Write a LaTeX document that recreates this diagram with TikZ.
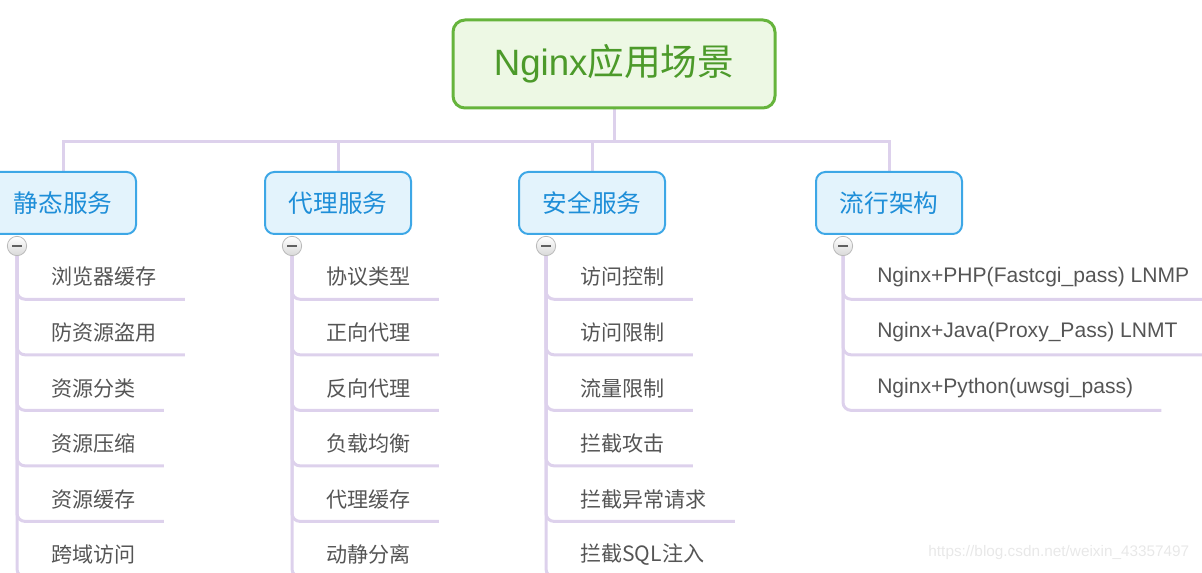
\documentclass[tikz,border=0pt]{standalone}
\usepackage{fontspec}
\setmainfont{Liberation Sans}
\newfontfamily\cjk{Noto Sans CJK SC}
\newcommand{\zh}[1]{{\cjk #1}}
\usetikzlibrary{positioning,backgrounds}
\definecolor{rootline}{HTML}{66B43C}
\definecolor{rootfill}{HTML}{EDF8E4}
\definecolor{roottext}{HTML}{4C9A2A}
\definecolor{catline}{HTML}{3DA7E6}
\definecolor{catfill}{HTML}{E3F3FC}
\definecolor{cattext}{HTML}{1E8ED8}
\definecolor{leaftext}{HTML}{555555}
\definecolor{branchline}{HTML}{DDD1EC}

\begin{document}
\begin{tikzpicture}[x=0.75pt,y=-0.75pt,node distance=8.25pt,
rootbox/.style={draw=rootline,line width=2.25pt,rounded corners=9pt,fill=rootfill,text=roottext,minimum width=241.5pt,minimum height=66pt,font=\fontsize{27.5}{32}\selectfont},
catbox/.style={draw=catline,line width=1.5pt,rounded corners=7pt,fill=catfill,text=cattext,minimum width=109.5pt,minimum height=46.5pt,font=\cjk\fontsize{18.5}{22}\selectfont},
leafitem/.style={text=leaftext,minimum height=33pt,inner xsep=21pt,inner ysep=0pt,font=\cjk\fontsize{15.8}{19}\selectfont},
foldmark/.style={circle,draw=gray!55,line width=0.6pt,top color=white,bottom color=gray!30,minimum size=14.5pt,inner sep=0pt,
  path picture={\draw[line width=1.6pt,gray!75!black] ([xshift=-3.5pt]path picture bounding box.center) -- ([xshift=3.5pt]path picture bounding box.center);}},
trunk/.style={draw=branchline,line width=2.25pt},
branch/.style={draw=branchline,line width=2.25pt,rounded corners=6pt}]
\useasboundingbox (0,0) rectangle (1202,573);
\node[rootbox] (root) at (614,64) {Nginx\zh{应用场景}};
% four groups
\node[catbox] (s) at (63,203) {静态服务};
\node[catbox] (p) at (338,203) {代理服务};
\node[catbox] (a) at (592,203) {安全服务};
\node[catbox] (f) at (889,203) {流行架构};
\node[foldmark] (ms) at ([shift={(28,11)}]s.south west) {};
\node[foldmark] (mp) at ([shift={(28,11)}]p.south west) {};
\node[foldmark] (ma) at ([shift={(28,11)}]a.south west) {};
\node[foldmark] (mf) at ([shift={(28,11)}]f.south west) {};
% static
\node[leafitem,anchor=west] (s1) at ([shift={(6,31)}]ms) {浏览器缓存};
\node[leafitem,below=of s1.south west,anchor=north west] (s2) {防资源盗用};
\node[leafitem,below=of s2.south west,anchor=north west] (s3) {资源分类};
\node[leafitem,below=of s3.south west,anchor=north west] (s4) {资源压缩};
\node[leafitem,below=of s4.south west,anchor=north west] (s5) {资源缓存};
\node[leafitem,below=of s5.south west,anchor=north west] (s6) {跨域访问};
% proxy
\node[leafitem,anchor=west] (p1) at ([shift={(6,31)}]mp) {协议类型};
\node[leafitem,below=of p1.south west,anchor=north west] (p2) {正向代理};
\node[leafitem,below=of p2.south west,anchor=north west] (p3) {反向代理};
\node[leafitem,below=of p3.south west,anchor=north west] (p4) {负载均衡};
\node[leafitem,below=of p4.south west,anchor=north west] (p5) {代理缓存};
\node[leafitem,below=of p5.south west,anchor=north west] (p6) {动静分离};
% security
\node[leafitem,anchor=west] (a1) at ([shift={(6,31)}]ma) {访问控制};
\node[leafitem,below=of a1.south west,anchor=north west] (a2) {访问限制};
\node[leafitem,below=of a2.south west,anchor=north west] (a3) {流量限制};
\node[leafitem,below=of a3.south west,anchor=north west] (a4) {拦截攻击};
\node[leafitem,below=of a4.south west,anchor=north west] (a5) {拦截异常请求};
\node[leafitem,below=of a5.south west,anchor=north west] (a6) {拦截SQL注入};
% architectures
\node[leafitem,anchor=west] (f1) at ([shift={(6,31)}]mf) {\rmfamily Nginx+PHP(Fastcgi\_pass) LNMP};
\node[leafitem,below=of f1.south west,anchor=north west] (f2) {\rmfamily Nginx+Java(Proxy\_Pass) LNMT};
\node[leafitem,below=of f2.south west,anchor=north west] (f3) {\rmfamily Nginx+Python(uwsgi\_pass)};
\node[anchor=east,text=gray!18,font=\fontsize{11.5}{14}\selectfont] (url) at (1194,553) {https://blog.csdn.net/weixin\_43357497};
\begin{scope}[on background layer]
\foreach \c in {s,p,a,f}
  \draw[trunk] (root.south) -- ++(0,32) -| (\c.north);
\foreach \c/\n in {s/6,p/6,a/6,f/3}
  \foreach \i in {1,...,\n}
    \draw[branch] (m\c) |- (\c\i.south east);
\end{scope}
\end{tikzpicture}
\end{document}
